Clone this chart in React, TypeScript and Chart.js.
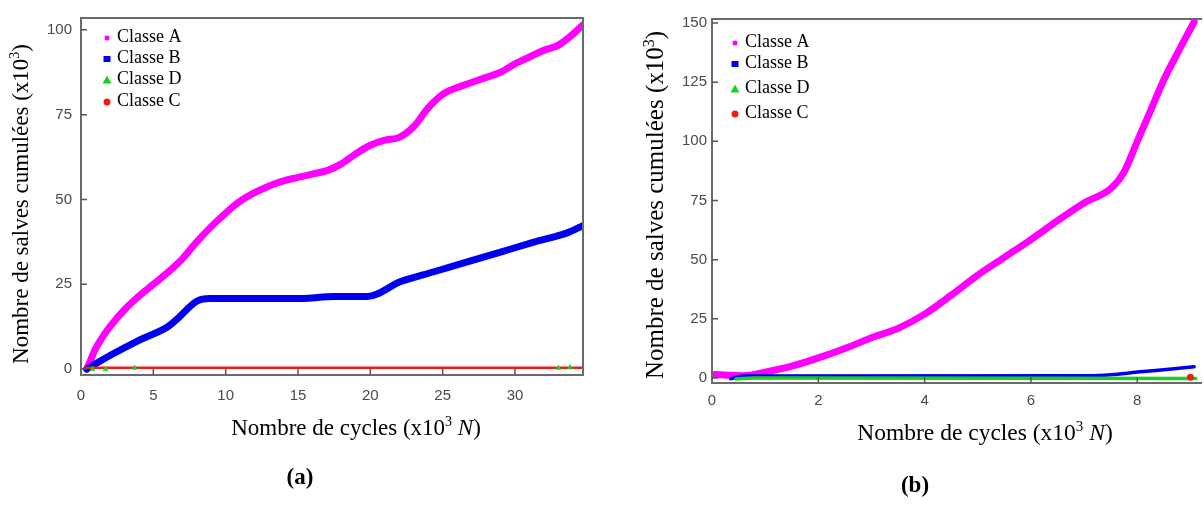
import React, { useEffect, useRef } from "react";
import { Chart, registerables } from "chart.js";

Chart.register(...registerables);

// ---------------- data ----------------
const classNames = ["Classe A", "Classe B", "Classe D", "Classe C"];
const classColors = ["#ff00ff", "#0000f0", "#1ccf1c", "#f01c1c"];

// panel (a)
const aTicksX = [0, 5, 10, 15, 20, 25, 30];
const aTicksY = [0, 25, 50, 75, 100];
const aCyclesA = [0.4, 0.7, 1.0, 1.5, 2, 3, 4, 5, 6, 7, 8, 9, 10, 11, 12, 13, 14, 15, 16, 17, 18, 19, 20, 21, 22, 23, 24, 25, 26, 27, 28, 29, 30, 31, 32, 33, 33.8, 34.7];
const aSalvesA = [0, 3, 6, 9.5, 12.5, 17.5, 21.5, 25, 28.5, 32.5, 37.5, 42, 46, 49.5, 52, 54, 55.5, 56.5, 57.5, 58.5, 60.5, 63.5, 66, 67.5, 68.3, 71.5, 77, 81, 83, 84.5, 86, 87.5, 90, 92, 94, 95.5, 98, 101.5];
const aCyclesB = [0.4, 2, 4, 6.0, 6.6, 8.0, 8.9, 12, 15.2, 17.5, 19.8, 22.1, 24.4, 26.7, 29.0, 31.3, 33.7, 34.7];
const aSalvesB = [0, 4, 8.5, 12.5, 14.6, 20, 20.8, 20.8, 20.8, 21.4, 21.4, 25.8, 28.7, 31.6, 34.5, 37.4, 40.3, 42.3];
const aCyclesD = [0.8, 1.7, 3.7, 33.0, 33.8];
const aSalvesD = [0, 0, 0.3, 0.3, 0.5];
const aCyclesC = [0.3, 34.7];
const aSalvesC = [0.4, 0.4];

// panel (b)
const bTicksX = [0, 2, 4, 6, 8];
const bTicksY = [0, 25, 50, 75, 100, 125, 150];
const bCyclesA = [0.05, 0.3, 0.6, 1.0, 1.5, 2.0, 2.5, 3.0, 3.5, 4.0, 4.5, 5.0, 5.5, 6.0, 6.5, 7.0, 7.5, 7.75, 8.0, 8.25, 8.5, 8.75, 9.07];
const bSalvesA = [1.5, 1.2, 1.0, 2.5, 5, 8.5, 12.5, 17, 21, 27, 35, 43.5, 51, 58.5, 66.5, 74, 80, 87, 100, 113, 126, 137, 150.5];
const bCyclesB = [0.35, 0.6, 7.1, 7.5, 8.0, 8.5, 9.07];
const bSalvesB = [-0.3, 0.9, 1.0, 1.4, 2.5, 3.5, 4.8];
const bCyclesD = [0.45, 0.8, 9.1];
const bSalvesD = [-0.4, 0, -0.2];
const bCyclesC = [9.0];
const bSalvesC = [0.3];

const yTitleText = "Nombre de salves cumulées (x10";
const xTitleText = "Nombre de cycles (x10";

// ---------------- drawing helpers ----------------
const SERIF = '"Liberation Serif", "Times New Roman", serif';
const SANS = '"Liberation Sans", Arial, sans-serif';

type Part = { t: string; font: string; dy?: number };

function drawParts(ctx: CanvasRenderingContext2D, parts: Part[], cx: number, cy: number, rotate: boolean) {
  ctx.save();
  ctx.translate(cx, cy);
  if (rotate) ctx.rotate(-Math.PI / 2);
  const widths = parts.map((p) => {
    ctx.font = p.font;
    return ctx.measureText(p.t).width;
  });
  const total = widths.reduce((a, b) => a + b, 0);
  let x = -total / 2;
  ctx.fillStyle = "#000";
  ctx.textBaseline = "alphabetic";
  ctx.textAlign = "left";
  parts.forEach((p, i) => {
    ctx.font = p.font;
    ctx.fillText(p.t, x, p.dy || 0);
    x += widths[i];
  });
  ctx.restore();
}

function drawMarker(ctx: CanvasRenderingContext2D, idx: number, x: number, y: number) {
  const c = classColors[idx];
  ctx.save();
  ctx.fillStyle = c;
  ctx.strokeStyle = c;
  if (idx === 0) {
    ctx.lineWidth = 1.5;
    ctx.beginPath();
    ctx.moveTo(x - 2.5, y); ctx.lineTo(x + 2.5, y);
    ctx.moveTo(x, y - 2.5); ctx.lineTo(x, y + 2.5);
    ctx.moveTo(x - 2, y - 2); ctx.lineTo(x + 2, y + 2);
    ctx.moveTo(x - 2, y + 2); ctx.lineTo(x + 2, y - 2);
    ctx.stroke();
  } else if (idx === 1) {
    ctx.fillRect(x - 3.5, y - 3, 7, 6);
  } else if (idx === 2) {
    ctx.beginPath();
    ctx.moveTo(x, y - 4.5);
    ctx.lineTo(x + 4.5, y + 3.5);
    ctx.lineTo(x - 4.5, y + 3.5);
    ctx.closePath();
    ctx.fill();
  } else {
    ctx.beginPath();
    ctx.arc(x, y, 3.5, 0, Math.PI * 2);
    ctx.fill();
  }
  ctx.restore();
}

type Series = { x: number[]; y: number[]; idx: number; kind: "line" | "points"; width?: number };

type PanelCfg = {
  left: number;
  width: number;
  area: { l: number; t: number; r: number; b: number };
  xMin: number; xMax: number; yMin: number; yMax: number;
  xTicks: number[]; yTicks: number[];
  series: Series[];
  yLabelPad: number; xLabelPad: number;
  legend: { mx: number; tx: number; ys: number[]; size: number };
  yTitle: { cx: number; cy: number; size: number };
  xTitle: { cx: number; cy: number; size: number };
  tag: { text: string; cx: number; cy: number; size: number };
  rightFrame: boolean;
};

function Panel({ cfg }: { cfg: PanelCfg }) {
  const ref = useRef<HTMLCanvasElement | null>(null);
  useEffect(() => {
    if (!ref.current) return;
    const decor = {
      id: "decor",
      afterDraw(chart: any) {
        const ctx: CanvasRenderingContext2D = chart.ctx;
        const { left, top, right, bottom } = chart.chartArea;
        const xs = chart.scales.x;
        const ys = chart.scales.y;
        ctx.save();
        // frame
        ctx.strokeStyle = "#6a6a6a";
        ctx.lineWidth = 2;
        ctx.beginPath();
        if (cfg.rightFrame) {
          ctx.rect(left, top, right - left, bottom - top);
        } else {
          ctx.moveTo(right + 2, top);
          ctx.lineTo(left, top);
          ctx.lineTo(left, bottom);
          ctx.lineTo(right + 2, bottom);
        }
        ctx.stroke();
        // inward ticks
        ctx.lineWidth = 1.5;
        ctx.strokeStyle = "#555";
        ctx.beginPath();
        cfg.xTicks.forEach((v) => {
          const px = xs.getPixelForValue(v);
          if (px <= left + 2) return;
          ctx.moveTo(px, bottom);
          ctx.lineTo(px, bottom - 6);
        });
        cfg.yTicks.forEach((v) => {
          const py = ys.getPixelForValue(v);
          ctx.moveTo(left, py);
          ctx.lineTo(left + 6, py);
        });
        ctx.stroke();
        ctx.restore();

        // legend
        ctx.save();
        classNames.forEach((name, i) => {
          const y = cfg.legend.ys[i];
          drawMarker(ctx, i, cfg.legend.mx, y + 1);
          ctx.fillStyle = "#000";
          ctx.font = `${cfg.legend.size}px ${SERIF}`;
          ctx.textBaseline = "middle";
          ctx.textAlign = "left";
          ctx.fillText(name, cfg.legend.tx, y);
        });
        ctx.restore();

        // y title
        const ys1 = cfg.yTitle.size;
        drawParts(
          ctx,
          [
            { t: yTitleText, font: `${ys1}px ${SERIF}` },
            { t: "3", font: `${Math.round(ys1 * 0.62)}px ${SERIF}`, dy: -ys1 * 0.38 },
            { t: ")", font: `${ys1}px ${SERIF}` },
          ],
          cfg.yTitle.cx + ys1 * 0.33,
          cfg.yTitle.cy,
          true
        );
        // x title
        const xs1 = cfg.xTitle.size;
        drawParts(
          ctx,
          [
            { t: xTitleText, font: `${xs1}px ${SERIF}` },
            { t: "3", font: `${Math.round(xs1 * 0.62)}px ${SERIF}`, dy: -xs1 * 0.38 },
            { t: " ", font: `${xs1}px ${SERIF}` },
            { t: "N", font: `italic ${xs1}px ${SERIF}` },
            { t: ")", font: `${xs1}px ${SERIF}` },
          ],
          cfg.xTitle.cx,
          cfg.xTitle.cy + xs1 * 0.33,
          false
        );
        // tag
        drawParts(
          ctx,
          [{ t: cfg.tag.text, font: `bold ${cfg.tag.size}px ${SERIF}` }],
          cfg.tag.cx,
          cfg.tag.cy + cfg.tag.size * 0.33,
          false
        );
      },
    };

    const datasets = cfg.series.map((s) => {
      const data = s.x.map((v, i) => ({ x: v, y: s.y[i] }));
      if (s.kind === "line") {
        return {
          label: classNames[s.idx],
          data,
          showLine: true,
          borderColor: classColors[s.idx],
          backgroundColor: classColors[s.idx],
          borderWidth: s.width || 6,
          pointRadius: 0,
          cubicInterpolationMode: "monotone" as const,
          borderCapStyle: "round" as const,
          borderJoinStyle: "round" as const,
        };
      }
      return {
        label: classNames[s.idx],
        data,
        showLine: false,
        borderColor: classColors[s.idx],
        backgroundColor: classColors[s.idx],
        pointStyle: s.idx === 2 ? ("triangle" as const) : ("circle" as const),
        pointRadius: 3.5,
        borderWidth: 0,
      };
    });

    const tickFont = { family: SANS, size: 15 };
    const chart = new Chart(ref.current, {
      type: "scatter",
      data: { datasets: datasets as any },
      options: {
        responsive: false,
        animation: false,
        devicePixelRatio: 1,
        events: [],
        layout: { padding: { left: 0, top: cfg.area.t, right: cfg.width - cfg.area.r, bottom: 0 } },
        plugins: { legend: { display: false }, tooltip: { enabled: false }, title: { display: false } },
        scales: {
          x: {
            type: "linear",
            min: cfg.xMin,
            max: cfg.xMax,
            afterFit: (s: any) => { s.height = 505 - cfg.area.b; },
            afterBuildTicks: (s: any) => { s.ticks = cfg.xTicks.map((v) => ({ value: v })); },
            grid: { display: false, drawTicks: false },
            border: { display: false },
            ticks: { padding: cfg.xLabelPad, color: "#4a4a4a", font: tickFont, maxRotation: 0, autoSkip: false },
          },
          y: {
            type: "linear",
            min: cfg.yMin,
            max: cfg.yMax,
            afterFit: (s: any) => { s.width = cfg.area.l; },
            afterBuildTicks: (s: any) => { s.ticks = cfg.yTicks.map((v) => ({ value: v })); },
            grid: { display: false, drawTicks: false },
            border: { display: false },
            ticks: { padding: cfg.yLabelPad, color: "#4a4a4a", font: tickFont, autoSkip: false },
          },
        },
      },
      plugins: [decor],
    });
    return () => chart.destroy();
  }, [cfg]);
  return (
    <canvas
      ref={ref}
      width={cfg.width}
      height={505}
      style={{ position: "absolute", left: cfg.left, top: 0, width: cfg.width, height: 505 }}
    />
  );
}

const panelA: PanelCfg = {
  left: 0,
  width: 600,
  area: { l: 81, t: 12, r: 583, b: 375 },
  xMin: 0, xMax: 34.7, yMin: -1.74, yMax: 103.5,
  xTicks: aTicksX, yTicks: aTicksY,
  series: [
    { x: aCyclesD, y: aSalvesD, idx: 2, kind: "points" },
    { x: aCyclesC, y: aSalvesC, idx: 3, kind: "line", width: 2.5 },
    { x: aCyclesB, y: aSalvesB, idx: 1, kind: "line", width: 7 },
    { x: aCyclesA, y: aSalvesA, idx: 0, kind: "line", width: 7 },
  ],
  yLabelPad: 9, xLabelPad: 12,
  legend: { mx: 107, tx: 117, ys: [37, 58, 79, 101], size: 18 },
  yTitle: { cx: 20, cy: 204, size: 23 },
  xTitle: { cx: 356, cy: 427, size: 23 },
  tag: { text: "(a)", cx: 300, cy: 476, size: 23 },
  rightFrame: true,
};

const panelB: PanelCfg = {
  left: 600,
  width: 604,
  area: { l: 112, t: 19, r: 604, b: 383 },
  xMin: 0, xMax: 9.18, yMin: -2.1, yMax: 151.7,
  xTicks: bTicksX, yTicks: bTicksY,
  series: [
    { x: bCyclesC, y: bSalvesC, idx: 3, kind: "points" },
    { x: bCyclesD, y: bSalvesD, idx: 2, kind: "line", width: 3.5 },
    { x: bCyclesB, y: bSalvesB, idx: 1, kind: "line", width: 3.5 },
    { x: bCyclesA, y: bSalvesA, idx: 0, kind: "line", width: 7 },
  ],
  yLabelPad: 5, xLabelPad: 9,
  legend: { mx: 135, tx: 145, ys: [42, 63, 88, 113], size: 18 },
  yTitle: { cx: 55, cy: 205, size: 25 },
  xTitle: { cx: 385, cy: 432, size: 23.5 },
  tag: { text: "(b)", cx: 315, cy: 484, size: 23 },
  rightFrame: false,
};

export default function App() {
  return (
    <div style={{ position: "absolute", left: 0, top: 0, width: 1204, height: 505, background: "#fff", overflow: "hidden" }}>
      <Panel cfg={panelA} />
      <Panel cfg={panelB} />
    </div>
  );
}
